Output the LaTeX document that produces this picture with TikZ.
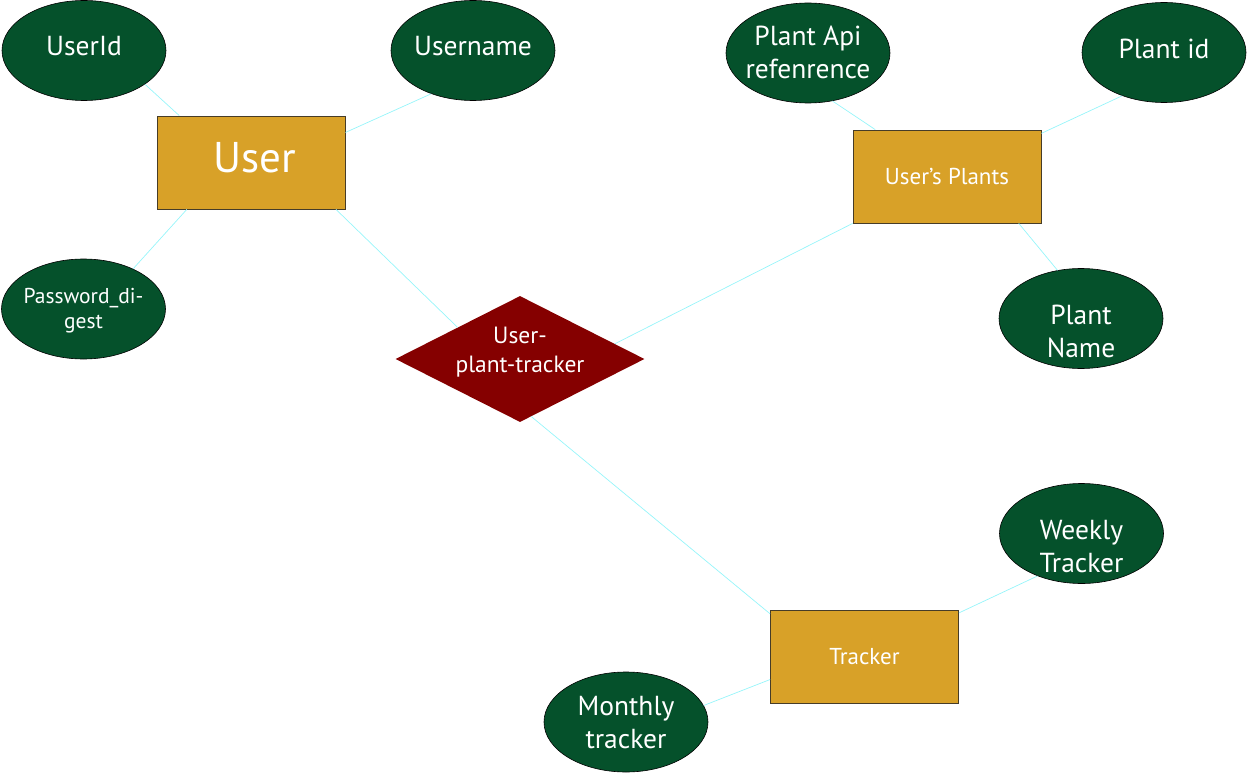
\documentclass[tikz,border=0pt]{standalone}
\usepackage{fontspec}
\setmainfont{PT Sans}
\usetikzlibrary{shapes.geometric,calc}
\definecolor{attrgreen}{RGB}{5,81,43}
\definecolor{entgold}{RGB}{216,161,40}
\definecolor{relred}{RGB}{133,0,0}
\definecolor{linkcyan}{RGB}{150,245,250}
\definecolor{entborder}{RGB}{70,60,40}
\newcommand\shifttext[3]{\makebox[0pt]{\raisebox{#2}[\height][\depth]{\hspace*{#1}\begin{tabular}{@{}c@{}}#3\end{tabular}}}}
\begin{document}
\begin{tikzpicture}[x=1pt,y=-1pt,
 attr/.style={ellipse, draw=black, line width=0.6pt, fill=attrgreen, text=white, minimum width=164pt, minimum height=100pt, inner sep=0pt, align=center, font=\fontsize{27.5}{33}\selectfont},
 entity/.style={rectangle, draw=entborder, line width=0.8pt, fill=entgold, text=white, minimum width=188pt, minimum height=93pt, inner sep=0pt, font=\fontsize{23}{28}\selectfont},
 rel/.style={diamond, aspect=2, fill=relred, text=white, minimum width=249pt, minimum height=126pt, inner sep=0pt, align=center, font=\fontsize{23.5}{29}\selectfont},
 link/.style={draw=linkcyan, line width=0.7pt}]
\useasboundingbox (0,0) rectangle (1248,773);
\node[entity, font=\fontsize{43}{48}\selectfont] (user) at (251,162.5) {\shifttext{8pt}{0pt}{User}};
\node[entity] (plants) at (947,176.5) {User’s Plants};
\node[entity] (tracker) at (864.5,657) {Tracker};
\node[attr] (userid) at (84,50.5) {\shifttext{0pt}{2pt}{UserId}};
\node[attr] (username) at (473,50.5) {\shifttext{0pt}{2pt}{Username}};
\node[attr, font=\fontsize{21.5}{25}\selectfont] (pwd) at (83.5,309) {\shifttext{0pt}{-2pt}{Password\_di-\\gest}};
\node[attr] (plantapi) at (808,53) {\shifttext{0pt}{-2pt}{Plant Api\\refenrence}};
\node[attr] (plantid) at (1164,52.5) {\shifttext{0pt}{1pt}{Plant id}};
\node[attr] (plantname) at (1081,318.5) {\shifttext{0pt}{-16pt}{Plant\\Name}};
\node[attr] (weekly) at (1081.5,533.5) {\shifttext{0pt}{-16pt}{Weekly\\Tracker}};
\node[attr] (monthly) at (626,722) {\shifttext{0pt}{-3pt}{Monthly\\tracker}};
\node[rel] (upt) at (520,359) {\shifttext{0pt}{7pt}{User-\\plant-tracker}};
\draw[link] (userid.-29) -- ($(user.north west)!0.12!(user.north east)$);
\draw[link] (username.-134) -- ($(user.north east)!0.18!(user.south east)$);
\draw[link] (pwd.39) -- ($(user.south west)!0.16!(user.south east)$);
\draw[link] ($(user.south west)!0.95!(user.south east)$) -- ($(upt.west)!0.5!(upt.north)$);
\draw[link] ($(upt.north)!0.76!(upt.east)$) -- (plants.south west);
\draw[link] ($(upt.south)!0.09!(upt.east)$) -- ($(tracker.north west)!0.04!(tracker.south west)$);
\draw[link] (plantapi.-63) -- ($(plants.north west)!0.12!(plants.north east)$);
\draw[link] (plantid.-134) -- ($(plants.north east)!0.04!(plants.south east)$);
\draw[link] ($(plants.south west)!0.88!(plants.south east)$) -- (plantname.116);
\draw[link] (weekly.-136) -- ($(tracker.north east)!0.03!(tracker.south east)$);
\draw[link] (monthly.12) -- ($(tracker.north west)!0.74!(tracker.south west)$);
\end{tikzpicture}
\end{document}
